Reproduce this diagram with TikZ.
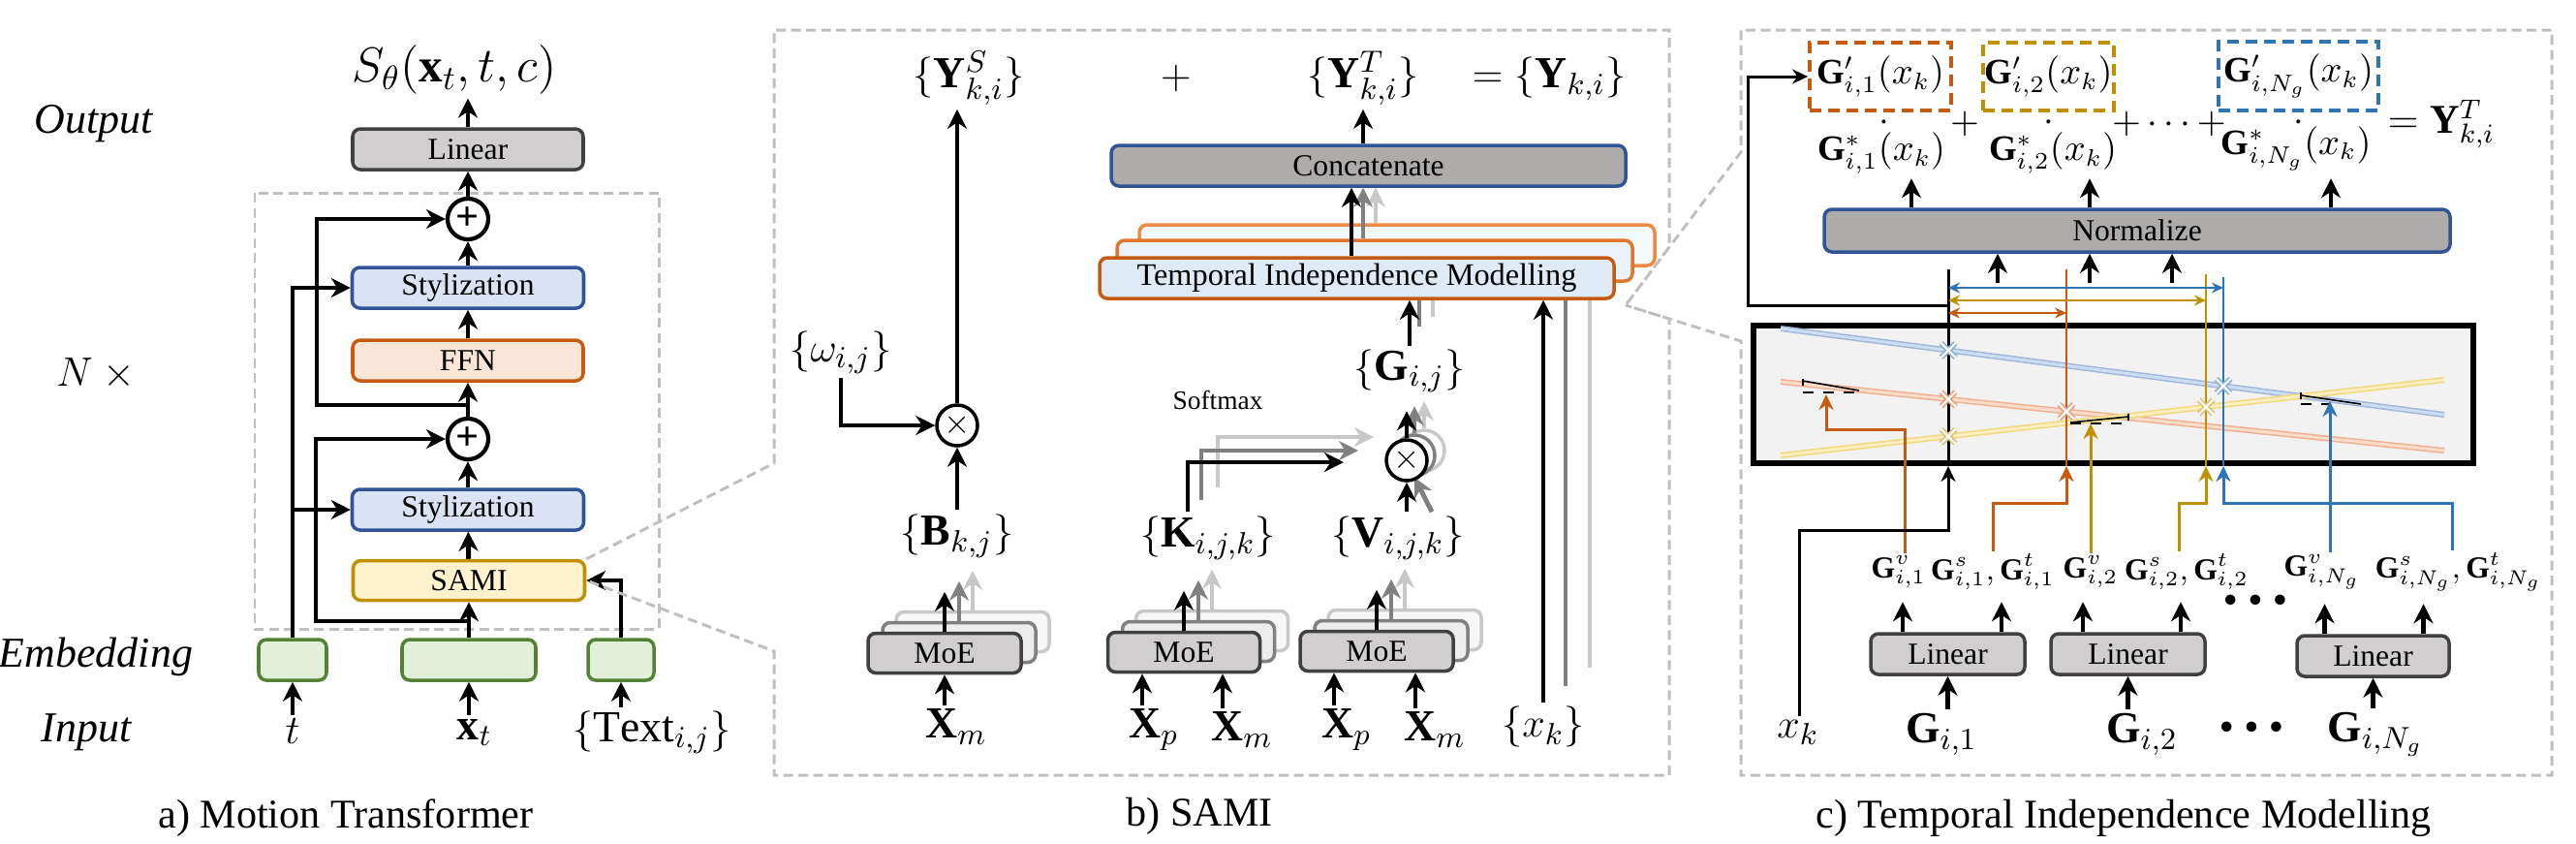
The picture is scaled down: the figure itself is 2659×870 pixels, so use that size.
\documentclass[tikz,border=0pt]{standalone}
\usepackage{fontspec}
\setmainfont{Liberation Serif}
\usepackage{tikz}
\usetikzlibrary{arrows.meta,positioning,calc,shapes.misc}

\definecolor{cgray}{HTML}{D0CECE}
\definecolor{cdark}{HTML}{404040}
\definecolor{cblue}{HTML}{DAE3F3}
\definecolor{cblued}{HTML}{2F5597}
\definecolor{cffn}{HTML}{FBE5D6}
\definecolor{corange}{HTML}{C55A11}
\definecolor{csami}{HTML}{FFF2CC}
\definecolor{cgold}{HTML}{BF9000}
\definecolor{cemb}{HTML}{E2F0D9}
\definecolor{cembd}{HTML}{548235}
\definecolor{ccat}{HTML}{AEABAB}
\definecolor{ctim}{HTML}{DEEBF7}
\definecolor{ctimb}{HTML}{EAF3FB}
\definecolor{ctimc}{HTML}{F3FAFE}
\definecolor{ctimo}{HTML}{E2752C}
\definecolor{ctimp}{HTML}{ED8A45}
\definecolor{cdash}{HTML}{BFBFBF}
\definecolor{cmid}{HTML}{808080}
\definecolor{clgt}{HTML}{C8C8C8}
\definecolor{cbluec}{HTML}{2E75B6}
\definecolor{cplot}{HTML}{F2F2F2}
\definecolor{cmoeb}{HTML}{EDEDED}
\definecolor{cmoec}{HTML}{F7F7F7}
\definecolor{pblue}{HTML}{9FB7DD}
\definecolor{pbluef}{HTML}{CFDDF0}
\definecolor{porange}{HTML}{F2B08E}
\definecolor{porangef}{HTML}{FADCCB}
\definecolor{pyel}{HTML}{F4D77A}
\definecolor{pyelf}{HTML}{FCEFC0}

\begin{document}
\begin{tikzpicture}[
    x=0.1mm, y=-0.1mm,
    arr/.style={-{Stealth[length=2mm,width=2mm]}, line width=1.4pt},
    tarr/.style={-{Stealth[length=1.6mm,width=1.5mm]}, line width=0.85pt},
    darr/.style={{Stealth[length=1.2mm,width=1.1mm]}-{Stealth[length=1.2mm,width=1.1mm]}, line width=0.55pt},
    bx/.style 2 args={draw, rounded corners=0.8mm, line width=1pt, inner sep=0pt, minimum width=#1mm, minimum height=#2mm, font=\fontsize{9}{10}\selectfont},
    lin/.style={fill=cgray, draw=cdark},
    sty/.style={fill=cblue, draw=cblued},
    ffn/.style={fill=cffn, draw=corange},
    sami/.style={fill=csami, draw=cgold},
    emb/.style={fill=cemb, draw=cembd},
    cat/.style={fill=ccat, draw=cblued},
    moe/.style={fill=cgray, draw=cdark},
    moeb/.style={fill=cmoeb, draw=cmid},
    moec/.style={fill=cmoec, draw=clgt},
    circ/.style={circle, draw, line width=1.2pt, minimum size=4.2mm, inner sep=0pt, fill=white},
    mlab/.style={inner sep=1pt, font=\fontsize{13}{15}\selectfont},
    smath/.style={inner sep=1pt, font=\fontsize{10.5}{12}\selectfont},
    srow/.style={inner sep=0.5pt, font=\fontsize{9}{10}\selectfont},
    dots/.style={inner sep=0pt, font=\fontsize{7}{8}\selectfont},
    side/.style={inner sep=1pt, font=\fontsize{12.5}{15}\selectfont\itshape},
    capt/.style={inner sep=1pt, font=\fontsize{12}{14}\selectfont},
    dbox/.style={draw=cdash, line width=0.85pt, dash pattern=on 1mm off 0.55mm},
    gbox/.style 2 args={draw, line width=1.1pt, dash pattern=on 1.2mm off 0.7mm, minimum width=#1mm, minimum height=#2mm, inner sep=0pt, font=\fontsize{10.5}{12}\selectfont},
    pline/.style 2 args={draw=#1, double=#2, double distance=0.3mm, line width=0.15mm},
    xmk/.style={cross out, draw=#1, double=white, double distance=0.6pt, line width=0.5pt, minimum size=1.3mm, inner sep=0pt},
    slope/.style={line width=0.45pt}
]
\useasboundingbox (0,0) rectangle (2659,870);

% a) Motion Transformer
\draw[dbox] (263,199) rectangle (680,649);
\node[side] (lout) at (97,128) {Output};
\node[side] (lrep) at (99,386) {$N\ \times$};
\node[side] (lemb) at (99,678) {Embedding};
\node[side] (linp) at (89,756) {Input};

\node[mlab, font=\fontsize{14}{16}\selectfont] (out) at (469,72) {$S_\theta(\mathbf{x}_t,t,c)$};
\node[bx={23.8}{4.2}, lin] (lin) at (483,154) {Linear};
\node[circ] (plusT) at (483,226) {\fontsize{12}{12}\selectfont\textbf{+}};
\node[bx={23.9}{4.2}, sty] (styT) at (483,297) {Stylization};
\node[bx={23.8}{4.2}, ffn] (ffn) at (483,372) {FFN};
\node[circ] (plusB) at (483,453) {\fontsize{12}{12}\selectfont\textbf{+}};
\node[bx={23.9}{4.2}, sty] (styB) at (483,526) {Stylization};
\node[bx={23.9}{4.1}, sami] (sami) at (484,599) {SAMI};
\node[bx={7}{4.2}, emb] (embT) at (302,681) {};
\node[bx={13.8}{4.2}, emb] (embX) at (484,681) {};
\node[bx={6.8}{4.2}, emb] (embC) at (641,681) {};
\node[mlab] (inT) at (302,755) {$t$};
\node[mlab] (inX) at (490,756) {$\mathbf{x}_t$};
\node[mlab] (inC) at (673,756) {$\{\mathrm{Text}_{i,j}\}$};
\node[capt] (capA) at (357,844) {a) Motion Transformer};

\draw[arr] (inT) -- (embT);
\draw[arr] (inX.north -| embX) -- (embX.south);
\draw[arr] (inC.north -| embC) -- (embC.south);
\draw[arr] (embX) -- (sami);
\draw[arr] (sami) -- (styB);
\draw[arr] (styB) -- (plusB);
\draw[arr] (plusB) -- (ffn);
\draw[arr] (ffn) -- (styT);
\draw[arr] (styT) -- (plusT);
\draw[arr] (plusT) -- (lin);
\draw[arr] (lin.north) -- (lin.north |- out.south);
\draw[arr] (embT.north) |- (styT.west);
\draw[arr] (embT.north |- styB.west) -- (styB.west);
\draw[arr] (embC.north) |- (sami.east);
\coordinate (xbr) at (484,641);
\draw[arr] (xbr) -- ++(-158,0) |- (plusB.west);
\coordinate (fbr) at (483,418);
\draw[arr] (fbr) -- ++(-156,0) |- (plusT.west);

% zoom outlines of b) and c)
\coordinate (zc) at (1678,315);
\draw[dbox] (sami.north east) -- (799,478) -- (799,31) -- (1723,31) -- (1723,255) -- (zc)
    -- (1797,157) -- (1797,31) -- (2634,31) -- (2634,800) -- (1797,800) -- (1797,352) -- (zc)
    -- (1723,329) -- (1723,800) -- (799,800) -- (799,672) -- (sami.east);

% b) SAMI
\node[mlab] (ys) at (1000,81) {$\{\mathbf{Y}^S_{k,i}\}$};
\node[mlab] (plb) at (1214,81) {$+$};
\node[mlab] (yt) at (1407,81) {$\{\mathbf{Y}^T_{k,i}\}$};
\node[mlab] (yk) at (1599,81) {$=\{\mathbf{Y}_{k,i}\}$};
\node[circ, line width=1pt] (mul1) at (988,439) {$\times$};
\node[mlab] (om) at (868,364) {$\{\omega_{i,j}\}$};
\node[mlab] (B) at (988,553) {$\{\mathbf{B}_{k,j}\}$};
\draw[arr] (om.south) |- (mul1.west);
\draw[arr] (B) -- (mul1);
\draw[arr] (mul1.north) -- (mul1.north |- ys.south);

\node[bx={15.8}{4.1}, moec] (m1c) at (1004,652) {};
\draw[arr, clgt] (m1c.north) -- ++(0,-41);
\node[bx={15.8}{4.1}, moeb] (m1b) at (990,663) {};
\draw[arr, cmid] (m1b.north) -- ++(0,-41);
\node[bx={15.8}{4.1}, moe] (m1) at (975,674) {MoE};
\draw[arr] (m1.north) -- ++(0,-41);
\node[mlab] (xm1) at (987,750) {$\mathbf{X}_m$};
\draw[arr] (xm1.north -| m1) -- (m1.south);

\node[bx={15.7}{4.1}, moec] (m2c) at (1251,651) {};
\draw[arr, clgt] (m2c.north) -- ++(0,-41);
\node[bx={15.7}{4.1}, moeb] (m2b) at (1237,662) {};
\draw[arr, cmid] (m2b.north) -- ++(0,-41);
\node[bx={15.7}{4.1}, moe] (m2) at (1222,673) {MoE};
\draw[arr] (m2.north) -- ++(0,-41);
\node[mlab] (xp2) at (1191,753) {$\mathbf{X}_p$};
\node[mlab] (xm2) at (1282,753) {$\mathbf{X}_m$};
\draw[arr] ([xshift=-1.2mm]xp2.north) -- ([xshift=-1.2mm]xp2.north |- m2.south);
\draw[arr] ([xshift=-2mm]xm2.north) -- ([xshift=-2mm]xm2.north |- m2.south);

\node[bx={15.8}{4.1}, moec] (m3c) at (1450,650) {};
\draw[arr, clgt] (m3c.north) -- ++(0,-41);
\node[bx={15.8}{4.1}, moeb] (m3b) at (1436,661) {};
\draw[arr, cmid] (m3b.north) -- ++(0,-41);
\node[bx={15.8}{4.1}, moe] (m3) at (1421,672) {MoE};
\draw[arr] (m3.north) -- ++(0,-41);
\node[mlab] (xp3) at (1390,753) {$\mathbf{X}_p$};
\node[mlab] (xm3) at (1481,753) {$\mathbf{X}_m$};
\draw[arr] ([xshift=-1.3mm]xp3.north) -- ([xshift=-1.3mm]xp3.north |- m3.south);
\draw[arr] ([xshift=-2mm]xm3.north) -- ([xshift=-2mm]xm3.north |- m3.south);

\node[mlab] (K) at (1247,555) {$\{\mathbf{K}_{i,j,k}\}$};
\node[mlab] (V) at (1443,555) {$\{\mathbf{V}_{i,j,k}\}$};
\node[inner sep=1pt, font=\fontsize{7.8}{9}\selectfont] (soft) at (1257,413) {Softmax};
\coordinate (sm) at (1387,477);
\draw[arr, clgt] ([xshift=1mm,yshift=2.5mm]K.north) |- ([xshift=3.1mm,yshift=2.6mm]sm);
\draw[arr, cmid] ([xshift=-0.7mm,yshift=1.2mm]K.north) |- ([xshift=1.5mm,yshift=1.2mm]sm);
\draw[arr] ([xshift=-2.1mm]K.north) |- (sm);

\node[circ, line width=1pt, draw=clgt] (mul2c) at (1470,465) {};
\draw[arr, clgt] (mul2c.north) -- ++(0,-28);
\node[circ, line width=1pt, draw=cmid] (mul2b) at (1460,470) {};
\draw[arr, cmid] (mul2b.north) -- ++(0,-28);
\draw[arr, cmid] ([xshift=0.8mm]V.north -| mul2c) -- (mul2b.south);
\node[circ, line width=1pt] (mul2) at (1452,475) {$\times$};
\draw[arr] (V.north -| mul2) -- (mul2.south);
\draw[arr] (mul2.north) -- ++(0,-28);
\node[mlab] (G) at (1455,383) {$\{\mathbf{G}_{i,j}\}$};

\node[mlab] (xk) at (1593,750) {$\{x_k\}$};
\node[bx={53.2}{4.2}, fill=ctimc, draw=ctimp] (tim3) at (1442,253) {};
\node[bx={53.2}{4.2}, fill=ctimb, draw=ctimo] (tim2) at (1419,269) {};
\draw[line width=1.4pt, clgt] ([xshift=2.4mm,yshift=3mm]G.north) -- ([xshift=2.4mm]G.north |- tim3.south);
\draw[line width=1.4pt, cmid] ([xshift=1mm,yshift=2mm]G.north) -- ([xshift=1mm]G.north |- tim2.south);
\draw[line width=1.4pt, clgt] ([xshift=4.8mm,yshift=3.6mm]xk.north) -- ([xshift=4.8mm]xk.north |- tim3.south);
\draw[line width=1.4pt, cmid] ([xshift=2.3mm,yshift=1.7mm]xk.north) -- ([xshift=2.3mm]xk.north |- tim2.south);
\node[bx={53.1}{4.2}, fill=ctim, draw=corange, font=\fontsize{9.2}{10}\selectfont] (tim) at (1400.5,287) {Temporal Independence Modelling};
\draw[arr] (G.north) -- (G.north |- tim.south);
\draw[arr] (xk.north) -- (xk.north |- tim.south);

\node[bx={53.1}{4.2}, cat] (concat) at (1412.5,171) {Concatenate};
\draw[arr, clgt] ([xshift=0.75mm]concat.south |- tim3.north) -- ([xshift=0.75mm]concat.south);
\draw[arr, cmid] ([xshift=-0.55mm]concat.south |- tim2.north) -- ([xshift=-0.55mm]concat.south);
\draw[arr] ([xshift=-1.75mm]concat.south |- tim.north) -- ([xshift=-1.75mm]concat.south);
\draw[arr] (concat.north -| yt) -- (yt.south);
\node[capt] (capB) at (1238,842) {b) SAMI};

% c) Temporal Independence Modelling
\node[gbox={14.6}{7}, draw=corange] (gp1) at (1941,79) {$\mathbf{G}'_{i,1}(x_k)$};
\node[gbox={13.5}{7}, draw=cgold] (gp2) at (2114.5,79) {$\mathbf{G}'_{i,2}(x_k)$};
\node[gbox={16.5}{7.1}, draw=cbluec] (gp3) at (2372.5,78.5) {$\mathbf{G}'_{i,N_g}(x_k)$};
\node[smath] (d1) at (1945,127) {$\cdot$};
\node[smath] (d2) at (2115,127) {$\cdot$};
\node[smath] (d3) at (2373,127) {$\cdot$};
\node[smath] (gs1) at (1942,158) {$\mathbf{G}^*_{i,1}(x_k)$};
\node[smath] (gs2) at (2119,158) {$\mathbf{G}^*_{i,2}(x_k)$};
\node[smath] (gs3) at (2370,153) {$\mathbf{G}^*_{i,N_g}(x_k)$};
\node[smath] (pc1) at (2028,128) {$+$};
\node[smath] (pc2) at (2239,128) {$+\cdots+$};
\node[inner sep=1pt, font=\fontsize{12}{14}\selectfont] (ytc) at (2520,128) {$=\mathbf{Y}^T_{k,i}$};

\node[bx={64.6}{4.4}, cat] (norm) at (2206,238) {Normalize};
\draw[arr] ([xshift=-23.3mm]norm.north) -- ++(0,-30);
\draw[arr] ([xshift=-4.9mm]norm.north) -- ++(0,-30);
\draw[arr] ([xshift=20mm]norm.north) -- ++(0,-30);
\draw[arr] ([xshift=-14.4mm]norm.south) ++(0,30) -- ([xshift=-14.4mm]norm.south);
\draw[arr] ([xshift=-4.9mm]norm.south) ++(0,30) -- ([xshift=-4.9mm]norm.south);
\draw[arr] ([xshift=3.6mm]norm.south) ++(0,30) -- ([xshift=3.6mm]norm.south);

\node[draw, line width=1.7pt, fill=cplot, minimum width=74.3mm, minimum height=14.2mm, inner sep=0pt] (plot) at (2181.5,407) {};
\coordinate (bl1) at (1838,339); \coordinate (bl2) at (2523,428);
\coordinate (or1) at (1838,394); \coordinate (or2) at (2523,465);
\coordinate (ye1) at (1838,470); \coordinate (ye2) at (2523,392);
\draw[pline={pblue}{pbluef}] (bl1) -- (bl2);
\draw[pline={porange}{porangef}] (or1) -- (or2);
\draw[pline={pyel}{pyelf}] (ye1) -- (ye2);

\coordinate (cx) at (2011,278);
\coordinate (co) at (2133,278);
\coordinate (cg) at (2277,283);
\coordinate (cb) at (2295,286);
\draw[line width=0.85pt] (cx) -- (cx |- plot.south);
\draw[line width=0.6pt, corange] (co) -- (co |- plot.south);
\draw[line width=0.6pt, cgold] (cg) -- (cg |- plot.south);
\draw[line width=0.6pt, cbluec] (cb) -- (cb |- plot.south);
\draw[darr, cbluec] ([yshift=-1.9mm]cx) -- ([yshift=-1.9mm]cx -| cb);
\draw[darr, cgold] ([yshift=-3.2mm]cx) -- ([yshift=-3.2mm]cx -| cg);
\draw[darr, corange] ([yshift=-4.5mm]cx) -- ([yshift=-4.5mm]cx -| co);
\draw[tarr] ([yshift=-3.7mm]cx) -- ++(-207,0) |- (gp1.west);

\node[xmk=cbluec!55] (mk1) at ($(bl1)!0.2526!(bl2)$) {};
\node[xmk=corange!55] (mk2) at ($(or1)!0.2526!(or2)$) {};
\node[xmk=cgold!55] (mk3) at ($(ye1)!0.2526!(ye2)$) {};
\node[xmk=corange!55] (mk4) at ($(or1)!0.4307!(or2)$) {};
\node[xmk=cgold!55] (mk5) at ($(ye1)!0.641!(ye2)$) {};
\node[xmk=cbluec!55] (mk6) at ($(bl1)!0.667!(bl2)$) {};

% slopes
\draw[slope] (1861,391) -- (1861,398) (1861,393) -- (1919,403);
\draw[slope, dashed] (1861,405) -- (1919,405);
\draw[slope] (2197,427) -- (2197,434) (2137,436) -- (2197,430);
\draw[slope, dashed] (2137,437) -- (2193,437);
\draw[slope] (2375,405) -- (2375,412) (2375,408) -- (2437,417);
\draw[slope, dashed] (2375,417) -- (2404,417);

\node[srow] (gv1) at (1960,590) {$\mathbf{G}^v_{i,1}$};
\node[srow] (gst1) at (2057,590) {$\mathbf{G}^s_{i,1},\mathbf{G}^t_{i,1}$};
\node[srow] (gv2) at (2158,590) {$\mathbf{G}^v_{i,2}$};
\node[srow] (gst2) at (2257,590) {$\mathbf{G}^s_{i,2},\mathbf{G}^t_{i,2}$};
\node[dots] (rdots) at (2328,620) {$\bullet\,\bullet\,\bullet$};
\node[srow] (gv3) at (2397,590) {$\mathbf{G}^v_{i,N_g}$};
\node[srow] (gst3) at (2538,590) {$\mathbf{G}^s_{i,N_g},\mathbf{G}^t_{i,N_g}$};

\coordinate (rowA) at (0,519);
\coordinate (rowB) at (0,443);
\coordinate (sl1) at (1885,407);
\coordinate (sl2) at (2158,437);
\coordinate (sl3) at (2405,414);
\coordinate (kb) at (1857,547);
\draw[tarr, corange] (gst1.north) -- (gst1.north |- rowA) -| (co |- plot.south);
\draw[tarr, cgold] ([xshift=-0.8mm]gst2.north) -- ([xshift=-0.8mm]gst2.north |- rowA) -| (cg |- plot.south);
\draw[tarr, cbluec] ([xshift=-0.7mm]gst3.north) -- ([xshift=-0.7mm]gst3.north |- rowA) -| (cb |- plot.south);
\draw[tarr, corange] ([xshift=0.6mm]gv1.north) -- ([xshift=0.6mm]gv1.north |- rowB) -| (sl1);
\draw[tarr, cgold] (gv2.north) -- (sl2);
\draw[tarr, cbluec] (gv3.north -| sl3) -- (sl3);

\node[mlab] (xkc) at (1856,756) {$x_k$};
\draw[tarr] (xkc.north -| kb) -- (kb) -| (cx |- plot.south);

\node[bx={15.9}{4.2}, lin] (L1) at (2010.5,675) {Linear};
\node[bx={15.9}{4.2}, lin] (L2) at (2196.5,675) {Linear};
\node[bx={15.7}{4.2}, lin] (L3) at (2449.5,677) {Linear};
\draw[arr] ([xshift=-4.65mm]L1.north) -- ++(0,-31);
\draw[arr] ([xshift=5.55mm]L1.north) -- ++(0,-31);
\draw[arr] ([xshift=-4.65mm]L2.north) -- ++(0,-31);
\draw[arr] ([xshift=5.45mm]L2.north) -- ++(0,-31);
\draw[arr] ([xshift=-5mm]L3.north) -- ++(0,-31);
\draw[arr] ([xshift=5.2mm]L3.north) -- ++(0,-31);
\node[mlab] (gg1) at (2004,758) {$\mathbf{G}_{i,1}$};
\node[mlab] (gg2) at (2211,758) {$\mathbf{G}_{i,2}$};
\node[dots] (gdots) at (2324,751) {$\bullet\,\bullet\,\bullet$};
\node[mlab] (gg3) at (2452,758) {$\mathbf{G}_{i,N_g}$};
\draw[arr] (gg1.north -| L1) -- (L1.south);
\draw[arr] (gg2.north -| L2) -- (L2.south);
\draw[arr] (gg3.north -| L3) -- (L3.south);
\node[capt] (capC) at (2192,844) {c) Temporal Independence Modelling};
\end{tikzpicture}
\end{document}
